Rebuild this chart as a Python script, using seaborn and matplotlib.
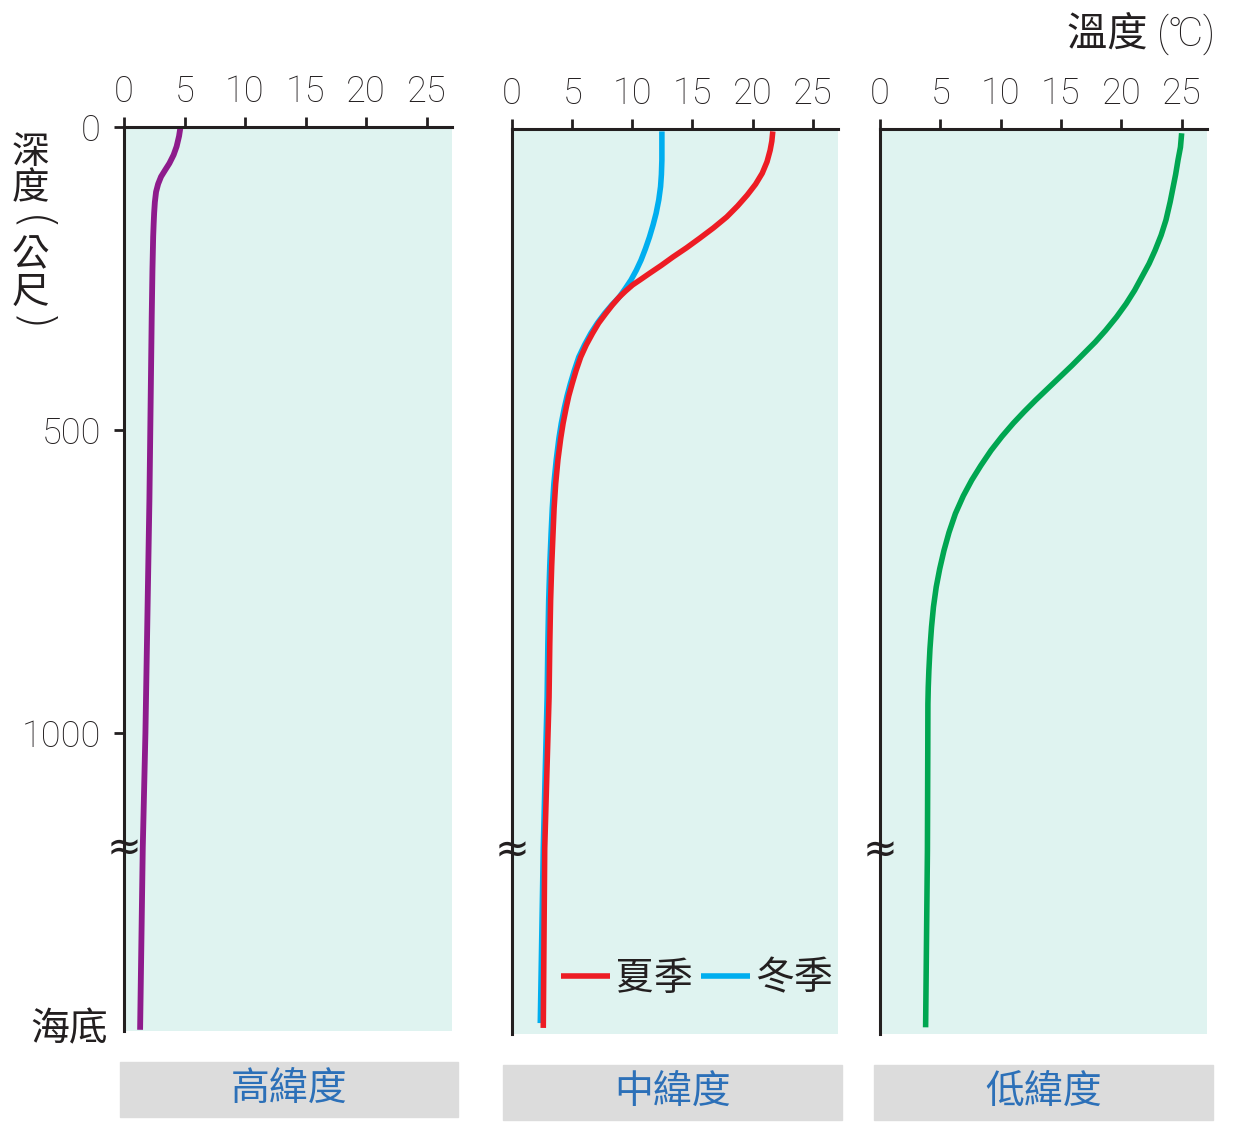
import matplotlib
matplotlib.use("Agg")
import matplotlib.pyplot as plt
import seaborn as sns
import pandas as pd
from matplotlib.patches import Rectangle

# depth in metres (bottom of the axis = 海底), temperature in ℃
high_depth = [2, 15, 32, 46, 60, 71, 82, 94, 107, 124, 142, 160, 181, 236, 313, 615,
              1000, 1190, 1490]
high_temp = [4.65, 4.55, 4.35, 4.1, 3.75, 3.4, 3.06, 2.82, 2.65, 2.55, 2.49, 2.45, 2.41,
             2.35, 2.29, 2.1, 1.77, 1.55, 1.33]

summer_depth = [4, 20, 35, 54, 73, 91, 109, 127, 145, 163, 180, 196, 211, 225, 238, 248,
                257, 267, 277, 290, 304, 320, 337, 356, 376, 398, 420, 440, 460, 485, 510,
                545, 585, 625, 667, 720, 777, 850, 937, 1186, 1482]
summer_temp = [21.68, 21.6, 21.46, 21.2, 20.8, 20.25, 19.55, 18.75, 17.85, 16.75, 15.61,
               14.5, 13.38, 12.4, 11.43, 10.7, 10.03, 9.45, 8.92, 8.35, 7.80, 7.2, 6.69,
               6.17, 5.71, 5.33, 5.0, 4.72, 4.5, 4.25, 4.05, 3.82, 3.63, 3.5, 3.41, 3.3,
               3.21, 3.14, 3.08, 2.72, 2.6]

winter_depth = [4, 51, 75, 95, 117, 139, 158, 178, 197, 216, 233, 249, 263, 277, 290, 304,
                320, 337, 356, 376, 398, 420, 440, 460, 485, 510, 545, 585, 625, 667, 720,
                777, 850, 937, 1186, 1474]
winter_temp = [12.46, 12.46, 12.42, 12.35, 12.2, 11.98, 11.73, 11.43, 11.1, 10.73, 10.33,
               9.89, 9.42, 8.92, 8.3, 7.70, 7.1, 6.55, 6.03, 5.55, 5.18, 4.85, 4.58, 4.35,
               4.1, 3.9, 3.68, 3.48, 3.35, 3.25, 3.14, 3.05, 2.98, 2.92, 2.6, 2.35]

low_depth = [7, 30, 51, 75, 95, 120, 150, 175, 200, 222, 244, 266, 288, 310, 332, 351, 370,
             390, 409, 428, 447, 466, 485, 507, 530, 555, 579, 605, 634, 665, 695, 725, 755,
             788, 821, 857, 893, 920, 948, 1022, 1190, 1481]
low_temp = [25.0, 24.9, 24.7, 24.5, 24.3, 24.05, 23.7, 23.3, 22.8, 22.3, 21.7, 21.1, 20.4,
            19.6, 18.7, 17.85, 16.9, 15.9, 14.9, 13.9, 12.9, 11.95, 11.05, 10.1, 9.2, 8.35,
            7.6, 6.9, 6.25, 5.72, 5.3, 4.95, 4.66, 4.43, 4.27, 4.14, 4.05, 4.0, 3.97, 3.96,
            3.93, 3.78]

temp_ticks = [0, 5, 10, 15, 20, 25]
depth_ticks = [0, 500, 1000]
panel_names = ["高緯度", "中緯度", "低緯度"]
season_names = ["夏季", "冬季"]

INK = "#231f20"
SEA = "#dff3f0"
BOX = "#dcdcdc"
NAME_BLUE = "#2c70b8"
colors = {"high": "#8e1b8c", "夏季": "#ed1c24", "冬季": "#00aeef", "low": "#00a651"}

sns.set_theme(style="ticks")
# Roboto for the digits, the CJK family for the Chinese text
plt.rcParams["font.family"] = ["Roboto", "Noto Sans CJK TC", "DejaVu Sans"]
plt.rcParams["font.weight"] = "light"
plt.rcParams["text.color"] = INK
plt.rcParams["xtick.color"] = INK
plt.rcParams["ytick.color"] = INK

W, H = 1253, 1146
fig = plt.figure(figsize=(W / 100, H / 100), dpi=100)

def px_axes(x0, y0, x1, y1):
    return fig.add_axes([x0 / W, 1 - y1 / H, (x1 - x0) / W, (y1 - y0) / H])

ax1 = px_axes(124, 127, 452, 1031)
ax2 = px_axes(512, 129, 838, 1034)
ax3 = px_axes(880, 129, 1207, 1034)

sns.lineplot(x=high_temp, y=high_depth, sort=False, estimator=None, ax=ax1,
             color=colors["high"], lw=4.2, solid_capstyle="butt")

mid = pd.DataFrame({
    "temp": summer_temp + winter_temp,
    "depth": summer_depth + winter_depth,
    "season": [season_names[0]] * len(summer_temp) + [season_names[1]] * len(winter_temp),
})
# winter first so summer sits on top where the two overlap
sns.lineplot(data=mid[mid.season == "冬季"], x="temp", y="depth", sort=False,
             estimator=None, ax=ax2, color=colors["冬季"], lw=4, solid_capstyle="butt",
             label="冬季")
sns.lineplot(data=mid[mid.season == "夏季"], x="temp", y="depth", sort=False,
             estimator=None, ax=ax2, color=colors["夏季"], lw=4, solid_capstyle="butt",
             label="夏季")

sns.lineplot(x=low_temp, y=low_depth, sort=False, estimator=None, ax=ax3,
             color=colors["low"], lw=4, solid_capstyle="butt")

for ax in (ax1, ax2, ax3):
    ax.set_facecolor(SEA)
    ax.set_xlim(0, 27.1)
    ax.set_ylim(1492, 0)
    ax.set_xlabel("")
    ax.set_ylabel("")
    for side in ("right", "bottom"):
        ax.spines[side].set_visible(False)
    for side in ("top", "left"):
        ax.spines[side].set_color(INK)
        ax.spines[side].set_linewidth(2.2)
    ax.xaxis.tick_top()
    ax.set_xticks(temp_ticks)
    ax.tick_params(axis="x", direction="out", length=7.5, width=2, pad=5,
                   labelsize=26, colors=INK)
    # axis break mark
    ax.text(0, 1190, "≈", ha="center", va="center", fontsize=30, color=INK,
            family=["DejaVu Sans", "Noto Sans CJK TC"], fontweight="normal")

ax1.set_yticks(depth_ticks)
ax1.tick_params(axis="y", direction="out", length=7.5, width=2, pad=9,
                labelsize=26, colors=INK)
ax1.text(-0.05, 1490, "海底", transform=ax1.get_yaxis_transform(),
         ha="right", va="center", fontsize=28)
for ax in (ax2, ax3):
    ax.set_yticks([])

handles, labels = ax2.get_legend_handles_labels()
order = [labels.index(s) for s in season_names]
ax2.legend([handles[i] for i in order], [labels[i] for i in order],
           loc="center right", bbox_to_anchor=(0.985, 0.061), ncol=2, frameon=False,
           fontsize=28, handlelength=1.25, handletextpad=0.15, columnspacing=0.2,
           borderpad=0, borderaxespad=0)

# vertical axis title: characters stacked, brackets turned on their side
fig.text(30 / W, 1 - 170 / H, "深\n度", ha="center", va="center", fontsize=27,
         linespacing=0.95)
fig.text(30 / W, 1 - 274 / H, "公\n尺", ha="center", va="center", fontsize=27,
         linespacing=0.95)
for ch, yc in zip("()", [224, 324]):
    fig.text(30 / W, 1 - yc / H, ch, ha="center", va="center", fontsize=34,
             rotation=-90, family=["DejaVu Sans"], fontweight="light")

fig.text(1215 / W, 1 - 33 / H, "溫度 (℃)", ha="right", va="center", fontsize=29)

# name boxes under each panel
for name, (x0, x1, y0, y1) in zip(panel_names, [(120, 458, 1062, 1117),
                                                (503, 842, 1065, 1120),
                                                (874, 1213, 1065, 1120)]):
    fig.patches.append(Rectangle((x0 / W, 1 - y1 / H), (x1 - x0) / W, (y1 - y0) / H,
                                 transform=fig.transFigure, color=BOX, zorder=0))
    fig.text((x0 + x1) / 2 / W, 1 - (y0 + y1) / 2 / H, name, ha="center", va="center",
             fontsize=28, color=NAME_BLUE)

fig.savefig("out.png", dpi=100)
